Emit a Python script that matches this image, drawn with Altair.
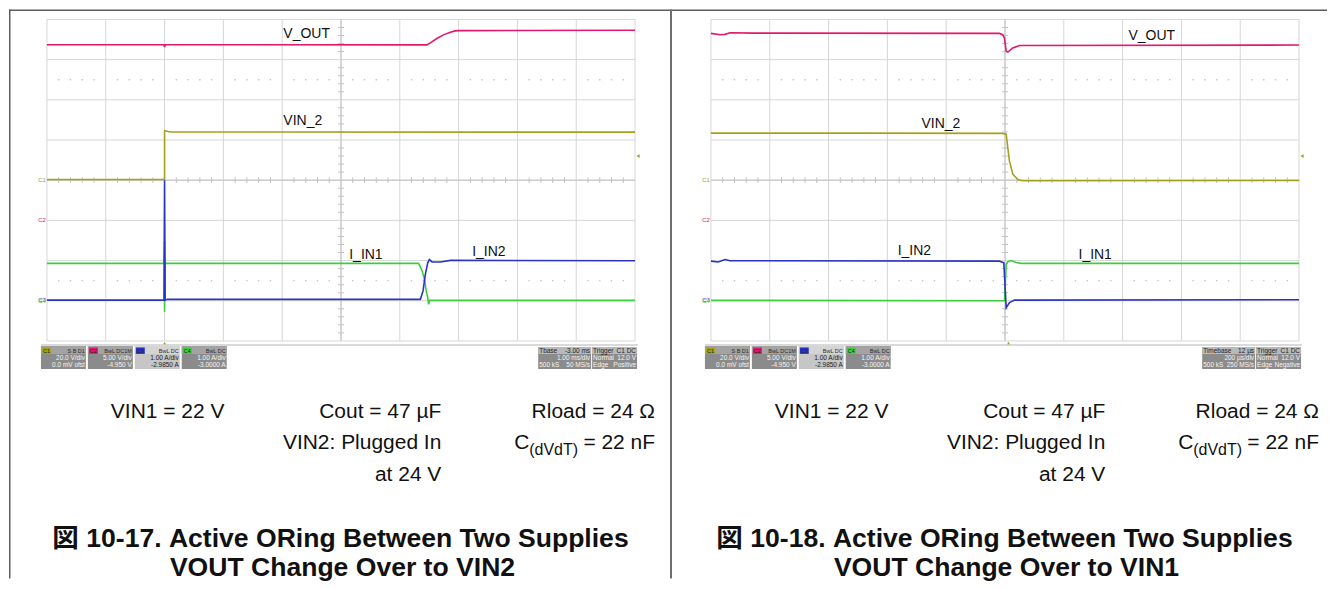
import altair as alt
import pandas as pd

# ---------------- channel settings ----------------
CH_NAMES = ["C1", "C2", "C3", "C4"]
CH_SIGNAL = ["VIN_2", "V_OUT", "I_IN2", "I_IN1"]
CH_VDIV = [20.0, 5.0, 1.0, 1.0]          # units per division
CH_OFFSET = [0.0, -4.95, -2.985, -3.0]   # offset in units
CH_COLORS = ["#a4a21c", "#e3176c", "#2a34c4", "#3ccf3c"]

# ---------------- Figure 10-17 (left): time in ms, trigger at 0 ----------------
L_VOUT_T = [-2.0, -0.01, 0.0, 0.01, 4.46, 4.52, 4.63, 4.75, 4.86, 4.94, 5.0, 8.0]
L_VOUT_V = [21.8, 21.8, 21.5, 21.8, 21.78, 22.03, 22.57, 23.06, 23.35, 23.52, 23.56, 23.6]
L_VIN2_T = [-2.0, 0.0, 0.0, 0.1, 8.0]
L_VIN2_V = [0.3, 0.3, 24.6, 24.0, 23.9]
L_IIN1_T = [-2.0, -0.01, 0.0, 0.0, 0.01, 0.03, 4.32, 4.38, 4.42, 4.45, 4.475, 4.49, 4.51, 8.0]
L_IIN1_A = [0.93, 0.93, 1.48, -0.28, 0.95, 0.93, 0.93, 0.74, 0.53, 0.24, 0.08, -0.09, 0.01, 0.01]
L_IIN2_T = [-2.0, -0.01, 0.0, 0.01, 0.05, 4.35, 4.395, 4.435, 4.475, 4.503, 4.548, 4.69, 4.86, 8.0]
L_IIN2_A = [0.0, 0.0, 2.98, 0.0, 0.02, 0.02, 0.23, 0.65, 0.93, 1.01, 0.95, 0.95, 0.99, 0.98]

# ---------------- Figure 10-18 (right): time in µs, grid centre at 0 ----------------
R_VOUT_T = [-1000, -969, -952, -935, -857, -19, -7.5, -1.7, 4.1, 9.5, 26.5, 49, 1000]
R_VOUT_V = [23.21, 23.05, 23.09, 23.29, 23.25, 23.21, 23.05, 22.6, 20.98, 20.89, 21.4, 21.7, 21.76]
R_VIN2_T = [-1000, -500, -8.5, 4.1, 9.5, 15.3, 26.6, 43.6, 59.6, 1000]
R_VIN2_V = [23.4, 23.4, 23.3, 22.86, 16.05, 9.44, 2.98, 0.3, -0.3, -0.15]
R_IIN2_T = [-1000, -975, -952, -935, -19, -4, 4.1, 15.3, 32.3, 1000]
R_IIN2_A = [0.97, 0.95, 1.01, 0.98, 0.97, 0.93, -0.19, -0.06, 0.0, 0.01]
R_IIN1_T = [-1000, -1.7, 4.1, 9.5, 21, 38, 55, 1000]
R_IIN1_A = [0.01, 0.0, 0.9, 0.97, 1.0, 0.95, 0.93, 0.93]

# trace labels (time, divisions)
L_LABELS = ["V_OUT", "VIN_2", "I_IN1", "I_IN2"]
L_LABEL_T = [2.02, 2.02, 3.14, 5.23]
L_LABEL_D = [3.53, 1.37, -1.96, -1.89]
R_LABELS = ["V_OUT", "VIN_2", "I_IN2", "I_IN1"]
R_LABEL_T = [420, -284, -365, 250]
R_LABEL_D = [3.50, 1.29, -1.86, -1.96]

# timebase / trigger boxes
L_TBASE = ["Tbase", "-3.00 ms", "1.00 ms/div", "500 kS", "50 MS/s"]
R_TBASE = ["Timebase", "12 µs", "200 µs/div", "500 kS", "250 MS/s"]
L_TRIG = ["Trigger", "C1 DC", "Normal", "12.0 V", "Edge", "Positive"]
R_TRIG = ["Trigger", "C1 DC", "Normal", "12.0 V", "Edge", "Negative"]
CH_HEAD = ["S B D1", "BwL DC1M", "BwL DC", "BwL DC"]
CH_L2 = ["20.0 V/div", "5.00 V/div", "1.00 A/div", "1.00 A/div"]
CH_L3 = ["0.0 mV ofst", "-4.950 V", "-2.9850 A", "-3.0000 A"]

CAPTION_ROW1 = ["VIN1 = 22 V", "Cout = 47 µF", "Rload = 24 Ω"]
CAPTION_ROW2 = ["VIN2: Plugged In", "C", "(dVdT)", "= 22 nF"]
CAPTION_ROW3 = ["at 24 V"]
L_TITLE = ["図 10-17. Active ORing Between Two Supplies", "VOUT Change Over to VIN2"]
R_TITLE = ["図 10-18. Active ORing Between Two Supplies", "VOUT Change Over to VIN1"]

# ---------------- layout ----------------
FONT = "Liberation Sans, Arial, Noto Sans CJK JP, sans-serif"
H = 570
VIEW_W = [664, 656]
VIEW_ORIGIN = [8, 672]
GRID_LEFT = [46, 711]
PX_X = 58.9
PX_Y = 40.25
CENTER_Y = 179
Y_LO = (CENTER_Y - (8 + H)) / PX_Y
Y_HI = (CENTER_Y - 8) / PX_Y


def traces_df(series):
    rows = []
    for ch_i, (ts, vs) in series.items():
        for i, (t, v) in enumerate(zip(ts, vs)):
            rows.append({"t": t, "d": (v + CH_OFFSET[ch_i]) / CH_VDIV[ch_i],
                         "ch": CH_SIGNAL[ch_i], "i": i})
    return pd.DataFrame(rows)


def build_panel(k, series, t0, tdiv, trig_t, lab, lab_t, lab_d, tbase, trig, title):
    width = VIEW_W[k]
    x_lo = t0 + (VIEW_ORIGIN[k] - GRID_LEFT[k]) / PX_X * tdiv
    x_hi = x_lo + width / PX_X * tdiv
    xs = alt.Scale(domain=[x_lo, x_hi], nice=False, zero=False)
    ys = alt.Scale(domain=[Y_LO, Y_HI], nice=False, zero=False)

    def X(f):
        return alt.X(f, type="quantitative", scale=xs, axis=None)

    def Y(f):
        return alt.Y(f, type="quantitative", scale=ys, axis=None)

    def lx(p):  # left-panel page x -> local pixel
        return p - 8 + k

    def ly(p):
        return p - 8

    layers = []
    # ---- grid ----
    gv = pd.DataFrame({"x": [t0 + j * tdiv for j in range(11)], "y": -4.0, "y2": 4.0})
    gh = pd.DataFrame({"y": [float(j) for j in range(-4, 5)], "x": t0, "x2": t0 + 10 * tdiv})
    layers.append(alt.Chart(gv).mark_rule(color="#d6d6d6", strokeWidth=1).encode(x=X("x"), y=Y("y"), y2="y2"))
    layers.append(alt.Chart(gh).mark_rule(color="#d6d6d6", strokeWidth=1).encode(y=Y("y"), x=X("x"), x2="x2"))
    cen = pd.DataFrame({"x": [t0 + 5 * tdiv, t0], "x2": [t0 + 5 * tdiv, t0 + 10 * tdiv],
                        "y": [-4.0, 0.0], "y2": [4.0, 0.0]})
    layers.append(alt.Chart(cen).mark_rule(color="#c2c2c2", strokeWidth=1).encode(x=X("x"), x2="x2", y=Y("y"), y2="y2"))
    sub_x = [t0 + (j + 0.2 * m) * tdiv for j in range(10) for m in range(1, 5)]
    dots = pd.DataFrame({"x": sub_x * 2, "y": [2.5] * len(sub_x) + [-2.5] * len(sub_x)})
    layers.append(alt.Chart(dots).mark_square(color="#c4c4c4", size=2, opacity=1).encode(x=X("x"), y=Y("y")))
    tk_h = pd.DataFrame({"x": sub_x, "y": -0.07, "y2": 0.07})
    layers.append(alt.Chart(tk_h).mark_rule(color="#c2c2c2").encode(x=X("x"), y=Y("y"), y2="y2"))
    sub_y = [j + 0.2 * m for j in range(-4, 4) for m in range(1, 5)]
    tk_v = pd.DataFrame({"y": sub_y, "x": t0 + 4.95 * tdiv, "x2": t0 + 5.05 * tdiv})
    layers.append(alt.Chart(tk_v).mark_rule(color="#c2c2c2").encode(y=Y("y"), x=X("x"), x2="x2"))

    # ---- traces ----
    tr = traces_df(series)
    layers.append(alt.Chart(tr).mark_line(strokeWidth=1.6).encode(
        x=X("t"), y=Y("d"), order="i:Q", detail="ch:N",
        color=alt.Color("ch:N", scale=alt.Scale(domain=CH_SIGNAL, range=CH_COLORS), legend=None)))

    # ---- ground markers ----
    gm = pd.DataFrame({"x": t0, "y": [o / v for o, v in zip(CH_OFFSET, CH_VDIV)], "txt": CH_NAMES, "col": CH_COLORS})
    layers.append(alt.Chart(gm).mark_text(font=FONT, fontSize=6, align="right", dx=-1, baseline="middle").encode(
        x=X("x"), y=Y("y"), text="txt:N", color=alt.Color("col:N", scale=None)))
    # ---- trigger markers ----
    tl = pd.DataFrame({"x": [t0 + 10.05 * tdiv], "y": [12.0 / CH_VDIV[0]]})
    layers.append(alt.Chart(tl).mark_point(shape="triangle-left", filled=True, size=14, color=CH_COLORS[0], opacity=1).encode(x=X("x"), y=Y("y")))
    tp = pd.DataFrame({"x": [trig_t], "y": [-4.06]})
    layers.append(alt.Chart(tp).mark_point(shape="triangle-up", filled=True, size=12, color=CH_COLORS[0], opacity=1).encode(x=X("x"), y=Y("y")))
    # ---- trace labels ----
    lb = pd.DataFrame({"x": lab_t, "y": lab_d, "txt": lab})
    layers.append(alt.Chart(lb).mark_text(font=FONT, fontSize=14, align="left", baseline="alphabetic", color="#111").encode(
        x=X("x"), y=Y("y"), text="txt:N"))

    # ---- pixel decorations ----
    def PX(f):
        return alt.X(f, type="quantitative", scale=None, axis=None)

    def PY(f):
        return alt.Y(f, type="quantitative", scale=None, axis=None)

    frame = [
        {"x": 0, "x2": width, "y": 0.75, "y2": 0.75, "w": 1.5},
        {"x": lx(40), "x2": lx(638), "y": ly(344), "y2": ly(344), "w": 1.5},
    ]
    if k == 0:
        frame.append({"x": 0.75, "x2": 0.75, "y": 0, "y2": H, "w": 1.5})
        frame.append({"x": width - 1, "x2": width - 1, "y": 0, "y2": H, "w": 2})
    fr = pd.DataFrame(frame)
    fcol = ["#5c5c5c", "#cccccc", "#5c5c5c", "#6e6e6e"][:len(frame)]
    fr["col"] = fcol
    layers.append(alt.Chart(fr).mark_rule().encode(
        x=PX("x"), x2="x2", y=PY("y"), y2="y2",
        color=alt.Color("col:N", scale=None), strokeWidth=alt.StrokeWidth("w:Q", scale=None)))

    rects, texts_r, texts_l, texts_c = [], [], [], []
    for i in range(4):
        bx = 40 + 47 * i
        sel = i == 2
        rects.append({"x": lx(bx), "x2": lx(bx + 45), "y": ly(345), "y2": ly(368), "col": "#c6c6c6" if sel else "#8b8b8b"})
        rects.append({"x": lx(bx), "x2": lx(bx + 45), "y": ly(345), "y2": ly(353), "col": "#d4d4d4" if sel else "#a3a3a3"})
        rects.append({"x": lx(bx + 1), "x2": lx(bx + 10), "y": ly(346.5), "y2": ly(353), "col": CH_COLORS[i]})
        texts_c.append({"x": lx(bx + 5.5), "y": ly(352), "txt": CH_NAMES[i], "col": "#222222", "fs": 5.5})
        tc = "#222222" if sel else "#f4f4f4"
        texts_r.append({"x": lx(bx + 44), "y": ly(352), "txt": CH_HEAD[i], "col": "#2a2a2a", "fs": 5.5})
        texts_r.append({"x": lx(bx + 44), "y": ly(359.5), "txt": CH_L2[i], "col": tc, "fs": 6.5})
        texts_r.append({"x": lx(bx + 44), "y": ly(366.5), "txt": CH_L3[i], "col": tc, "fs": 6.5})
    for (b0, b1) in [(538, 591), (592, 637)]:
        rects.append({"x": lx(b0), "x2": lx(b1), "y": ly(346), "y2": ly(368), "col": "#8b8b8b"})
        rects.append({"x": lx(b0), "x2": lx(b1), "y": ly(346), "y2": ly(353), "col": "#b9b9b9"})
    texts_l.append({"x": lx(539), "y": ly(352), "txt": tbase[0], "col": "#222222", "fs": 6.5})
    texts_r.append({"x": lx(590), "y": ly(352), "txt": tbase[1], "col": "#222222", "fs": 6.5})
    texts_r.append({"x": lx(590), "y": ly(359.5), "txt": tbase[2], "col": "#f4f4f4", "fs": 6.5})
    texts_l.append({"x": lx(539), "y": ly(366.5), "txt": tbase[3], "col": "#f4f4f4", "fs": 6.5})
    texts_r.append({"x": lx(590), "y": ly(366.5), "txt": tbase[4], "col": "#f4f4f4", "fs": 6.5})
    texts_l.append({"x": lx(593), "y": ly(352), "txt": trig[0], "col": "#222222", "fs": 6.5})
    texts_r.append({"x": lx(636), "y": ly(352), "txt": trig[1], "col": "#222222", "fs": 6.5})
    texts_l.append({"x": lx(593), "y": ly(359.5), "txt": trig[2], "col": "#f4f4f4", "fs": 6.5})
    texts_r.append({"x": lx(636), "y": ly(359.5), "txt": trig[3], "col": "#f4f4f4", "fs": 6.5})
    texts_l.append({"x": lx(593), "y": ly(366.5), "txt": trig[4], "col": "#f4f4f4", "fs": 6.5})
    texts_r.append({"x": lx(636), "y": ly(366.5), "txt": trig[5], "col": "#f4f4f4", "fs": 6.5})

    rc = pd.DataFrame(rects)
    layers.append(alt.Chart(rc).mark_rect().encode(
        x=PX("x"), x2="x2", y=PY("y"), y2="y2", color=alt.Color("col:N", scale=None)))

    # captions
    black = "#111111"
    texts_l.append({"x": lx(110), "y": ly(417), "txt": CAPTION_ROW1[0], "col": black, "fs": 21})
    texts_r.append({"x": lx(441), "y": ly(417), "txt": CAPTION_ROW1[1], "col": black, "fs": 21})
    texts_r.append({"x": lx(655), "y": ly(417), "txt": CAPTION_ROW1[2], "col": black, "fs": 21})
    texts_r.append({"x": lx(441), "y": ly(448.5), "txt": CAPTION_ROW2[0], "col": black, "fs": 21})
    texts_l.append({"x": lx(514), "y": ly(448.5), "txt": CAPTION_ROW2[1], "col": black, "fs": 21})
    texts_l.append({"x": lx(529), "y": ly(454), "txt": CAPTION_ROW2[2], "col": black, "fs": 16})
    texts_r.append({"x": lx(655), "y": ly(448.5), "txt": CAPTION_ROW2[3], "col": black, "fs": 21})
    texts_r.append({"x": lx(441), "y": ly(480), "txt": CAPTION_ROW3[0], "col": black, "fs": 21})

    for data, al in [(texts_l, "left"), (texts_r, "right"), (texts_c, "center")]:
        layers.append(alt.Chart(pd.DataFrame(data)).mark_text(font=FONT, align=al, baseline="alphabetic").encode(
            x=PX("x"), y=PY("y"), text="txt:N",
            color=alt.Color("col:N", scale=None), size=alt.Size("fs:Q", scale=None, legend=None)))

    ttl = pd.DataFrame({"x": [lx(340), lx(342)], "y": [ly(546), ly(575)], "txt": title})
    layers.append(alt.Chart(ttl).mark_text(font=FONT, fontSize=26.6, fontWeight="bold", align="center",
                                           baseline="alphabetic", color=black).encode(
        x=PX("x"), y=PY("y"), text="txt:N"))

    return alt.layer(*layers).properties(width=width, height=H)


left = build_panel(0, {1: (L_VOUT_T, L_VOUT_V), 0: (L_VIN2_T, L_VIN2_V),
                       3: (L_IIN1_T, L_IIN1_A), 2: (L_IIN2_T, L_IIN2_A)},
                   -2.0, 1.0, 0.0, L_LABELS, L_LABEL_T, L_LABEL_D, L_TBASE, L_TRIG, L_TITLE)
right = build_panel(1, {1: (R_VOUT_T, R_VOUT_V), 0: (R_VIN2_T, R_VIN2_V),
                        3: (R_IIN1_T, R_IIN1_A), 2: (R_IIN2_T, R_IIN2_A)},
                    -1000.0, 200.0, 12.0, R_LABELS, R_LABEL_T, R_LABEL_D, R_TBASE, R_TRIG, R_TITLE)

chart = alt.hconcat(left, right, spacing=0, bounds="flush").properties(
    padding=0, background="white"
).configure_view(stroke=None)

chart.save("out.html", embed_options={"renderer": "svg", "actions": False})
